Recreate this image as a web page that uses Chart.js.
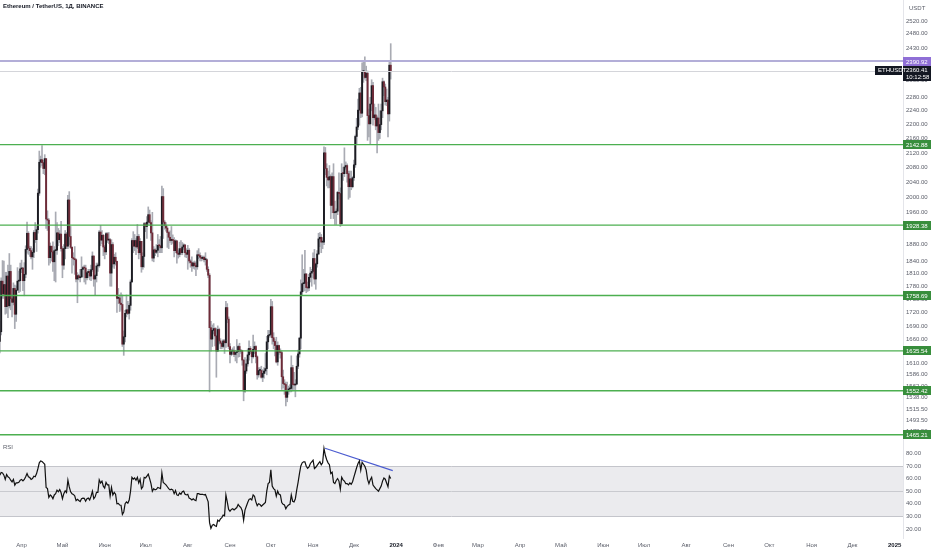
<!DOCTYPE html>
<html><head><meta charset="utf-8">
<script src="https://cdn.jsdelivr.net/npm/chart.js@4.4.0/dist/chart.umd.min.js"></script>
<style>html,body{margin:0;padding:0;background:#fff;}#wrap{width:932px;height:550px;position:relative;}</style>
</head><body><div id="wrap"><canvas id="c" width="932" height="550"></canvas></div>
<script>
// Day index 0 = 2023-03-16 (daily candles, ETHUSDT, Binance)
const firstOpen = 1656;
const closes = [
1677,1792,1762,1784,1733,1804,1735,1815,1751,1743,
1775,1716,1771,1792,1793,1821,1823,1793,1808,1868,
1908,1871,1865,1850,1861,1910,1892,1917,2011,2094,
2101,2093,2077,2104,1944,1941,1848,1876,1862,1838,
1865,1866,1909,1892,1906,1870,1830,1870,1906,1876,
1993,1900,1873,1848,1845,1843,1797,1805,1800,1802,
1820,1824,1823,1800,1812,1815,1804,1819,1852,1797,
1805,1828,1829,1911,1891,1903,1874,1862,1907,1891,
1892,1811,1880,1833,1849,1839,1752,1753,1741,1738,
1650,1666,1718,1726,1718,1736,1790,1890,1876,1890,
1874,1900,1860,1888,1826,1851,1932,1925,1936,1955,
1935,1909,1847,1867,1861,1866,1878,1877,1872,2002,
1936,1927,1921,1910,1898,1890,1893,1890,1865,1889,
1859,1856,1870,1860,1874,1879,1860,1856,1866,1840,
1836,1828,1835,1829,1826,1855,1853,1849,1846,1849,
1843,1843,1820,1806,1686,1661,1680,1684,1668,1635,
1682,1657,1652,1645,1657,1653,1731,1705,1645,1628,
1635,1636,1628,1632,1634,1645,1635,1636,1616,1552,
1593,1608,1627,1641,1634,1623,1639,1645,1623,1585,
1594,1594,1580,1588,1593,1598,1655,1669,1671,1733,
1664,1656,1647,1612,1647,1633,1632,1581,1567,1565,
1539,1552,1556,1557,1600,1565,1564,1566,1603,1629,
1663,1767,1786,1787,1809,1777,1776,1801,1811,1815,
1846,1797,1833,1857,1894,1898,1886,1886,2120,2077,
2053,2046,2055,1979,2055,1960,1961,1964,2013,2010,
1932,2064,2063,2081,2085,2063,2028,2049,2028,2052,
2087,2166,2193,2242,2293,2233,2358,2359,2340,2353,
2226,2202,2260,2315,2220,2228,2196,2219,2177,2200,
2240,2327,2311,2267,2272,2231,2378,2360.41
];
const highs = [
1700,1800,1841,1840,1813,1813,1830,1858,1830,1757,
1788,1783,1781,1824,1816,1835,1842,1825,1836,1877,
1936,1912,1876,1875,1870,1915,1935,1925,2022,2125,
2111,2140,2100,2115,2104,1965,1945,1884,1876,1887,
1875,1962,1935,1920,1915,1938,1875,1880,1915,1910,
2005,2015,1925,1875,1860,1875,1845,1812,1808,1820,
1850,1827,1830,1830,1815,1820,1820,1830,1862,1852,
1808,1835,1835,1915,1928,1915,1905,1878,1910,1910,
1910,1895,1892,1885,1856,1860,1840,1775,1760,1765,
1760,1679,1725,1760,1745,1740,1795,1895,1912,1905,
1895,1930,1905,1895,1888,1860,1935,1935,1950,1975,
1967,1940,1961,1875,1870,1880,1905,1892,1900,2030,
2023,1940,1935,1925,1912,1914,1925,1904,1897,1892,
1890,1865,1886,1890,1885,1882,1880,1870,1878,1870,
1843,1850,1838,1840,1838,1865,1870,1860,1853,1852,
1852,1860,1845,1826,1810,1700,1692,1695,1686,1685,
1690,1685,1662,1654,1660,1660,1745,1740,1710,1651,
1639,1642,1645,1637,1660,1648,1652,1637,1637,1617,
1621,1617,1640,1657,1645,1635,1670,1655,1647,1625,
1600,1600,1603,1596,1600,1630,1667,1680,1680,1750,
1745,1675,1660,1665,1655,1648,1640,1635,1595,1575,
1570,1570,1562,1565,1625,1605,1590,1575,1625,1637,
1665,1795,1855,1820,1866,1810,1790,1808,1825,1820,
1860,1868,1835,1865,1908,1910,1905,1897,2137,2135,
2090,2070,2085,2060,2065,2090,1990,1970,2016,2065,
2025,2090,2080,2134,2095,2090,2070,2070,2070,2055,
2100,2170,2218,2275,2307,2310,2385,2390,2404,2375,
2360,2245,2280,2333,2325,2260,2250,2225,2260,2240,
2260,2338,2330,2320,2305,2280,2392,2446
];
const lows = [
1631,1670,1752,1752,1716,1718,1708,1730,1726,1710,
1737,1684,1700,1770,1765,1768,1812,1770,1758,1800,
1859,1856,1851,1845,1820,1848,1885,1863,1908,2005,
2080,2085,2063,2060,1920,1915,1830,1835,1840,1815,
1793,1790,1856,1877,1885,1864,1800,1820,1845,1870,
1870,1880,1870,1811,1830,1808,1790,1742,1795,1790,
1800,1802,1790,1785,1795,1800,1795,1793,1815,1780,
1760,1790,1815,1825,1877,1882,1853,1845,1855,1885,
1882,1780,1780,1825,1822,1830,1720,1740,1722,1725,
1645,1626,1655,1710,1715,1705,1725,1790,1860,1865,
1855,1870,1845,1855,1813,1820,1825,1912,1895,1930,
1931,1890,1840,1838,1853,1858,1850,1860,1860,1860,
1895,1918,1913,1873,1870,1885,1880,1883,1850,1860,
1835,1847,1850,1855,1855,1868,1850,1848,1820,1835,
1825,1815,1822,1820,1805,1820,1845,1840,1840,1842,
1838,1830,1815,1800,1550,1635,1645,1672,1646,1580,
1635,1650,1640,1640,1642,1630,1643,1697,1640,1610,
1625,1628,1623,1614,1610,1622,1623,1630,1605,1532,
1549,1588,1603,1616,1630,1610,1620,1630,1610,1576,
1580,1588,1578,1571,1578,1588,1585,1640,1665,1665,
1650,1640,1625,1610,1605,1628,1620,1555,1558,1545,
1522,1530,1545,1550,1550,1552,1555,1540,1565,1598,
1622,1640,1760,1768,1770,1765,1768,1770,1790,1780,
1800,1785,1773,1825,1855,1875,1860,1870,1880,2060,
2030,2025,2025,1945,1960,1945,1930,1930,1955,1995,
1925,1930,2045,2055,2075,2040,1995,2000,2020,2025,
2045,2080,2145,2185,2198,2220,2222,2325,2335,2330,
2155,2165,2145,2240,2198,2215,2185,2120,2155,2160,
2185,2220,2285,2257,2255,2165,2210,2335
];
const rsiValues = [
62.7,64.8,64.5,62.7,59.3,63.2,61.4,60.6,58.7,57.4,
59.3,54.8,56.6,56.6,57.1,58.7,59.3,58.2,59.3,61.4,
64,61.4,60.8,59.3,60,61.9,61.4,64,68,72.5,
74,73.5,72.5,71.4,53,52,45,47,46,44,
47,48,50.8,49.5,51.3,48.7,44,48,50.3,49,
58.7,53.4,49.5,48,47.4,46.3,42.5,43.5,42.6,41.8,
44,44.5,44.3,42,44,44.5,43,46,50,44,
45.5,49,49,59,56.5,58,54,52.5,57,55,
55,46,53,47,49,47.6,40,40.3,39,38.8,
31.5,33.5,40,41.5,40.5,43,50,61,59.5,60.5,
58.7,61,56.5,59.5,52,53.5,61,60.5,62,63.5,
60,56,50,52,51,51.5,53,52.5,52,64.5,
57,56,55,53.5,52,51,51.5,51,48,50.5,
47,46.5,48.5,47.5,49.5,50,47.5,47,47.5,44.5,
44,43,44,43,42.5,48,48,47.5,47.5,47.5,
47,47.3,44.5,41.5,25,20.5,23,23.5,22.5,22,
27,26,28,29,31,30.5,47,41.5,35.5,34,
35.5,36,35,36,37,39.5,38,37,34.5,27,
35,38,41,43.5,44,43,47,46,41.5,38.5,
40,39.5,38,39,40,41,50,56,57,67,
54,52,51,46,50,47.5,47,41,39.5,39,
36,38,39,39.5,47,42,41.5,44,51,57,
64,70,72.5,73.3,73.3,69.8,68.2,69.3,72,73.3,
74.6,68,69,70.5,72,73.4,71,72.5,84,78.5,
75,72.5,71,64,65,57,56,58.5,60,58,
51.5,61,59,58,56,56,55,56.5,55.5,57.5,
61.4,65,68.8,72,74,66.7,73,71.4,69.8,66.7,
59.3,56,59,61,54.8,53.4,52,51,50,52,
54,58,60.5,59.5,56.5,53.5,62,60
];
// RSI trend line drawn on the indicator pane (day index, RSI value)
const rsiTrendDays = [238.8, 288.5];
const rsiTrendValues = [84, 66.3];

const priceTicks = [2520,2480,2430,2380,2330,2280,2240,2200,2160,2120,2080,2040,2000,1960,1920,1880,1840,1810,1780,1750,1720,1690,1660,1635,1610,1586,1562,1538,1515.5,1493.5,1472.5];
const rsiTicks = [80,70,60,50,40,30,20];
const monthTickDays = [16,46,77,107,138,169,199,230,260,291,322,351,382,412,443,473,504,535,565,596,626,657];
const monthTickLabels = ['Апр','Май','Июн','Июл','Авг','Сен','Окт','Ноя','Дек','2024','Фев','Мар','Апр','Май','Июн','Июл','Авг','Сен','Окт','Ноя','Дек','2025'];
const supportLevels = [2142.88,1928.38,1758.69,1635.54,1552.42,1465.21];
const resistanceLevel = 2390.92;
const lastPrice = 2360.41;
const countdown = '10:12:58';
const titleText = 'Ethereum / TetherUS, 1Д, BINANCE';
const symbolText = 'ETHUSDT';

const FONT = "'Liberation Sans', Arial, sans-serif";
const opens = closes.map((c, i) => i === 0 ? firstOpen : closes[i - 1]);
const bodyData = closes.map((c, i) => ({x: i, y: [opens[i], c]}));
const wickData = closes.map((c, i) => ({x: i, y: [lows[i], highs[i]]}));
const rsiData = rsiValues.map((v, i) => ({x: i, y: v}));
const trendData = rsiTrendDays.map((d, i) => ({x: d, y: rsiTrendValues[i]}));

function hline(ctx, ca, y, color, w) {
  ctx.strokeStyle = color; ctx.lineWidth = w;
  const yy = w === 1 ? Math.round(y) + 0.5 : y;
  ctx.beginPath(); ctx.moveTo(ca.left, yy); ctx.lineTo(ca.right, yy); ctx.stroke();
}
function tag(ctx, x, y, w, h, bg, text, fg) {
  ctx.fillStyle = bg; ctx.fillRect(x, Math.round(y - h / 2), w, h);
  ctx.fillStyle = fg; ctx.font = '6px ' + FONT; ctx.textBaseline = 'middle'; ctx.textAlign = 'left';
  ctx.fillText(text, x + 3, Math.round(y - h / 2) + h / 2 + 0.5);
}
function noPad(s) { s.paddingTop = 0; s.paddingBottom = 0; s.paddingLeft = 0; s.paddingRight = 0; }

const overlay = {
  id: 'overlay',
  beforeDatasetsDraw(chart) {
    const {ctx, chartArea: ca, scales: {yr}} = chart;
    const y70 = yr.getPixelForValue(70), y30 = yr.getPixelForValue(30), y50 = yr.getPixelForValue(50);
    ctx.save();
    ctx.fillStyle = '#ebebee';
    ctx.fillRect(ca.left, y70, ca.right - ca.left, y30 - y70);
    hline(ctx, ca, y70, '#c4c5cb', 1);
    hline(ctx, ca, y50, '#c9cacf', 1);
    hline(ctx, ca, y30, '#c4c5cb', 1);
    ctx.restore();
  },
  afterDatasetsDraw(chart) {
    const {ctx, chartArea: ca, scales: {y}} = chart;
    ctx.save();
    supportLevels.forEach(v => hline(ctx, ca, y.getPixelForValue(v), '#4caf50', 1.4));
    hline(ctx, ca, y.getPixelForValue(resistanceLevel), '#b3aed8', 2);
    hline(ctx, ca, y.getPixelForValue(lastPrice), '#d4d5da', 1);
    ctx.restore();
  },
  afterDraw(chart) {
    const {ctx, chartArea: ca, scales: {y, yr}} = chart;
    const ax = ca.right;
    ctx.save();
    supportLevels.forEach(v => tag(ctx, ax, y.getPixelForValue(v), 28, 9, '#388e3c', v.toFixed(2), '#ffffff'));
    tag(ctx, ax, y.getPixelForValue(resistanceLevel), 28, 9, '#8f6fd6', resistanceLevel.toFixed(2), '#ffffff');
    const yl = y.getPixelForValue(lastPrice);
    ctx.fillStyle = '#131722';
    ctx.fillRect(ax, Math.round(yl - 5), 28, 15);
    ctx.fillRect(ax - 28, Math.round(yl - 4.5), 27, 9);
    ctx.fillStyle = '#ffffff'; ctx.font = '6px ' + FONT; ctx.textBaseline = 'middle'; ctx.textAlign = 'left';
    ctx.fillText(lastPrice.toFixed(2), ax + 3, Math.round(yl - 5) + 4.5);
    ctx.fillText(countdown, ax + 3, Math.round(yl - 5) + 11);
    ctx.fillText(symbolText, ax - 25, Math.round(yl - 4.5) + 4.5);
    // texts
    ctx.fillStyle = '#131722'; ctx.font = 'bold 6px ' + FONT; ctx.textBaseline = 'middle';
    ctx.fillText(titleText, 3, 6);
    ctx.fillStyle = '#5d606b'; ctx.font = '6px ' + FONT;
    ctx.fillText('RSI', 3, yr.top + 4);
    ctx.fillText('USDT', ax + 6, 8);
    ctx.restore();
  }
};

const yearDays = new Set([291, 657]);
const tickFont = {size: 6, family: FONT};

new Chart(document.getElementById('c'), {
  type: 'bar',
  data: {
    datasets: [
      {type: 'bar', data: bodyData, yAxisID: 'y', xAxisID: 'x', grouped: false, order: 1,
        barThickness: 1.3, borderWidth: 0, minBarLength: 1,
        backgroundColor: c => (c.raw && c.raw.y[1] >= c.raw.y[0]) ? '#1c1c22' : '#6e2b38'},
      {type: 'bar', data: wickData, yAxisID: 'y', xAxisID: 'x', grouped: false, order: 2,
        barThickness: 1, borderWidth: 0, backgroundColor: '#a9abb3'},
      {type: 'line', data: rsiData, yAxisID: 'yr', xAxisID: 'x', order: 0,
        borderColor: '#111111', borderWidth: 1.2, pointRadius: 0, tension: 0, fill: false},
      {type: 'line', data: trendData, yAxisID: 'yr', xAxisID: 'x', order: 0,
        borderColor: '#4a5bd0', borderWidth: 1.1, pointRadius: 0, tension: 0, fill: false}
    ]
  },
  options: {
    responsive: false, animation: false, devicePixelRatio: 1,
    layout: {padding: 0},
    plugins: {legend: {display: false}, tooltip: {enabled: false}, title: {display: false}},
    scales: {
      x: {
        type: 'linear', min: 0.15, max: 663.1, offset: false, position: 'bottom',
        grid: {display: false, drawTicks: false}, border: {display: false},
        afterBuildTicks: s => { s.ticks = monthTickDays.map(v => ({value: v})); },
        afterFit: s => { s.height = 12; noPad(s); },
        ticks: {
          autoSkip: false, maxRotation: 0, padding: 4,
          callback: (v, i) => monthTickLabels[i],
          color: c => yearDays.has(c.tick && c.tick.value) ? '#131722' : '#5d606b',
          font: c => ({size: 6, family: FONT, weight: yearDays.has(c.tick && c.tick.value) ? 'bold' : 'normal'})
        }
      },
      y: {
        type: 'logarithmic', position: 'right', stack: 'panes', stackWeight: 443,
        min: 1449.6, max: 2590,
        grid: {display: false, drawTicks: false}, border: {display: true, color: '#e4e5ea'},
        afterBuildTicks: s => { s.ticks = priceTicks.map(v => ({value: v})); },
        afterFit: s => { s.width = 29; noPad(s); },
        ticks: {autoSkip: false, padding: 3, color: '#5d606b', font: tickFont, callback: v => Number(v).toFixed(2)}
      },
      yr: {
        type: 'linear', position: 'right', stack: 'panes', stackWeight: 95,
        min: 12.8, max: 88.25,
        grid: {display: false, drawTicks: false}, border: {display: true, color: '#e4e5ea'},
        afterBuildTicks: s => { s.ticks = rsiTicks.map(v => ({value: v})); },
        afterFit: s => { s.width = 29; noPad(s); },
        ticks: {autoSkip: false, padding: 3, color: '#5d606b', font: tickFont, callback: v => Number(v).toFixed(2)}
      }
    }
  },
  plugins: [overlay]
});
</script>
</body></html>
